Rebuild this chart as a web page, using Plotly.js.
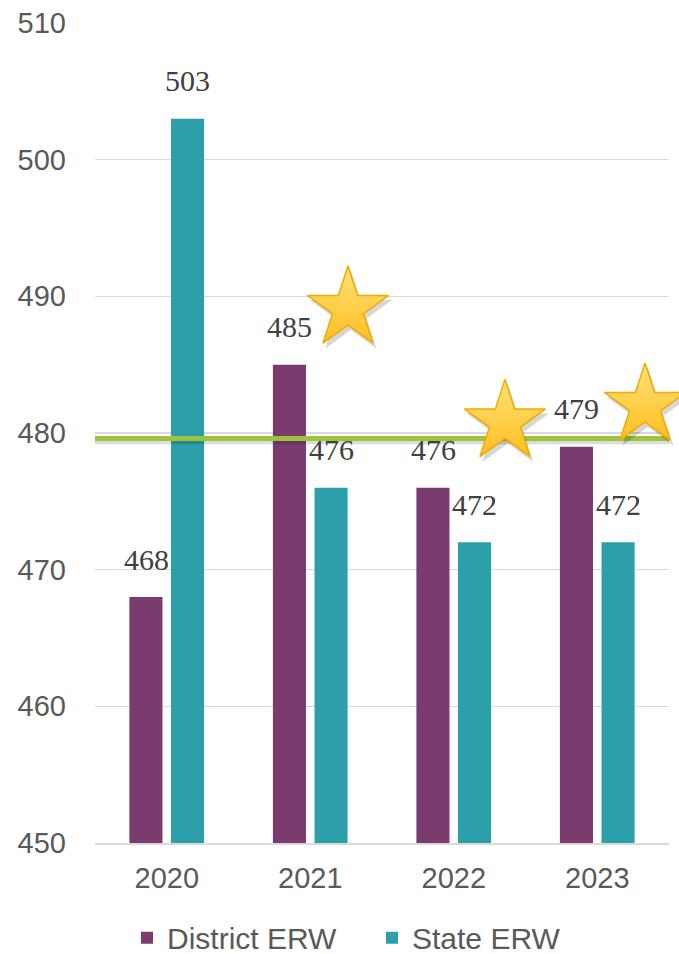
<!DOCTYPE html>
<html>
<head>
<meta charset="utf-8">
<script src="https://cdn.plot.ly/plotly-3.0.1.min.js"></script>
<style>html,body{margin:0;padding:0;background:#fff;}#chart{width:679px;height:954px;}</style>
</head>
<body>
<div id="chart"></div>
<script>
// ---- data ----
const years = ['2020', '2021', '2022', '2023'];
const districtERW = [468, 485, 476, 479];
const stateERW = [503, 476, 472, 472];
const targetValue = 479.6;
// stars: category index + offset, and height on value axis
const starX = [1.263, 2.357, 3.333];
const starY = [489.1, 480.8, 482.0];

const purple = '#7A3B6F';
const teal = '#2C9FAB';
const xIdx = years.map((_, i) => i);

const groupOffset = 0.1446; // half the distance between paired bar centres (category units)
const lineSpan = [-0.53, 3.5];

const traces = [
  {
    type: 'bar', name: 'District ERW', x: xIdx, y: districtERW,
    marker: {color: purple}, hoverinfo: 'skip'
  },
  {
    type: 'bar', name: 'State ERW', x: xIdx, y: stateERW,
    marker: {color: teal}, hoverinfo: 'skip'
  },
  // target line shadow + line
  {
    type: 'scatter', mode: 'lines', x: lineSpan, y: [targetValue - 0.2, targetValue - 0.2],
    line: {color: 'rgba(0,0,0,0.14)', width: 6}, showlegend: false, hoverinfo: 'skip', cliponaxis: false
  },
  {
    type: 'scatter', mode: 'lines', x: lineSpan, y: [targetValue, targetValue],
    line: {color: '#9DC43A', width: 5}, showlegend: false, hoverinfo: 'skip', cliponaxis: false
  },
  // star shadows
  {
    type: 'scatter', mode: 'markers', x: starX.map(v => v + 0.02), y: starY.map(v => v - 0.35),
    marker: {symbol: 'star', size: 62, color: 'rgba(0,0,0,0.16)', line: {width: 0}},
    showlegend: false, hoverinfo: 'skip', cliponaxis: false
  },
  {
    type: 'scatter', mode: 'markers', x: starX, y: starY,
    marker: {symbol: 'star', size: 61, color: '#FFE27A',
      gradient: {type: 'vertical', color: '#FFBF1F'},
      line: {width: 1.5, color: '#F2A900'}},
    showlegend: false, hoverinfo: 'skip', cliponaxis: false
  }
];

const labelFont = {family: '"Liberation Serif", "Times New Roman", serif', size: 30, color: '#404040'};
const annotations = [];
xIdx.forEach(i => {
  annotations.push({x: i - groupOffset, y: districtERW[i], text: String(districtERW[i]),
    showarrow: false, yshift: 38, font: labelFont, xref: 'x', yref: 'y'});
  annotations.push({x: i + groupOffset, y: stateERW[i], text: String(stateERW[i]),
    showarrow: false, yshift: 38, font: labelFont, xref: 'x', yref: 'y'});
});

const tickFont = {family: 'Arial, "Liberation Sans", sans-serif', size: 29, color: '#595959'};

const layout = {
  width: 679, height: 954,
  margin: {l: 95, r: 10, t: 23, b: 111},
  paper_bgcolor: '#ffffff', plot_bgcolor: '#ffffff',
  barmode: 'group', bargap: 0.42, bargroupgap: 0.205,
  showlegend: true,
  legend: {orientation: 'h', x: 127, xref: 'container', xanchor: 'left',
    y: 0.017, yref: 'container', yanchor: 'middle',
    font: {family: 'Arial, "Liberation Sans", sans-serif', size: 30, color: '#595959'},
    entrywidth: 200, entrywidthmode: 'pixels', traceorder: 'normal'},
  xaxis: {
    type: 'linear', range: [-0.5, 3.5], tickvals: xIdx, ticktext: years, automargin: false,
    showgrid: false, zeroline: false, showline: true, linecolor: '#D9D9D9', linewidth: 2,
    ticks: '', tickfont: tickFont, ticklabelstandoff: 8, fixedrange: true
  },
  yaxis: {
    range: [450, 510], dtick: 10, tick0: 450, automargin: false,
    showgrid: true, gridcolor: '#D9D9D9', gridwidth: 1.5, zeroline: false, showline: false,
    ticks: '', tickfont: tickFont, ticklabelstandoff: 28, fixedrange: true
  },
  annotations: annotations
};
layout.legend.x = 127 / 679;

Plotly.newPlot('chart', traces, layout, {displayModeBar: false, staticPlot: true});
</script>
</body>
</html>
